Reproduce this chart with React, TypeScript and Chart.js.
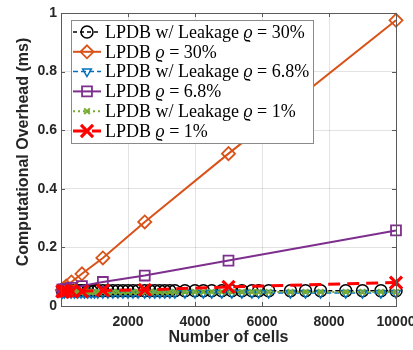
import React, { useEffect, useRef } from 'react';
import { Chart, registerables } from 'chart.js';

Chart.register(...registerables);

// ---- data ----
const sparseCells = [39, 78, 156, 312, 625, 1250, 2500, 5000, 10000];
const lpdb30 = [0.055, 0.06, 0.068, 0.082, 0.11, 0.164, 0.287, 0.52, 0.975];
const lpdb68 = [0.056, 0.057, 0.058, 0.062, 0.068, 0.082, 0.104, 0.155, 0.258];
const lpdb1 = [0.05, 0.05, 0.05, 0.05, 0.05, 0.053, 0.055, 0.065, 0.08];

const leakCells = [39, 100, 200, 300, 400, 500, 600, 700, 800, 900, 1000, 1100, 1250, 1400, 1550, 1700, 1850, 2000, 2150, 2300, 2500, 2650, 2800, 2950, 3100, 3250, 3400, 3700, 4000, 4250, 4500, 4800, 5100, 5400, 5700, 5900, 6200, 6850, 7300, 7750, 8500, 9000, 9550, 10000];
const leak30 = [0.052, 0.052, 0.052, 0.052, 0.052, 0.052, 0.052, 0.052, 0.052, 0.052, 0.052, 0.052, 0.052, 0.052, 0.052, 0.052, 0.052, 0.052, 0.052, 0.052, 0.052, 0.052, 0.052, 0.052, 0.052, 0.052, 0.052, 0.052, 0.052, 0.052, 0.052, 0.052, 0.052, 0.052, 0.052, 0.052, 0.052, 0.052, 0.052, 0.052, 0.052, 0.052, 0.052, 0.052];
const leak68 = [0.044, 0.044, 0.044, 0.044, 0.044, 0.044, 0.044, 0.044, 0.044, 0.044, 0.044, 0.044, 0.044, 0.044, 0.044, 0.044, 0.044, 0.044, 0.044, 0.044, 0.044, 0.044, 0.044, 0.044, 0.044, 0.044, 0.044, 0.044, 0.044, 0.044, 0.044, 0.044, 0.044, 0.044, 0.044, 0.044, 0.044, 0.044, 0.044, 0.044, 0.044, 0.044, 0.044, 0.044];
const leak1 = [0.048, 0.048, 0.048, 0.048, 0.048, 0.048, 0.048, 0.048, 0.048, 0.048, 0.048, 0.048, 0.048, 0.048, 0.048, 0.048, 0.048, 0.048, 0.048, 0.048, 0.048, 0.048, 0.048, 0.048, 0.048, 0.048, 0.048, 0.048, 0.048, 0.048, 0.048, 0.048, 0.048, 0.048, 0.048, 0.048, 0.048, 0.048, 0.048, 0.048, 0.048, 0.048, 0.048, 0.048];

const xTickValues = [2000, 4000, 6000, 8000, 10000];
const yTickValues = [0, 0.2, 0.4, 0.6, 0.8, 1];
const xTitle = 'Number of cells';
const yTitle = 'Computational Overhead (ms)';

const legendRows = [
  { prefix: 'LPDB w/ Leakage ', suffix: ' = 30%' },
  { prefix: 'LPDB ', suffix: ' = 30%' },
  { prefix: 'LPDB w/ Leakage ', suffix: ' = 6.8%' },
  { prefix: 'LPDB ', suffix: ' = 6.8%' },
  { prefix: 'LPDB w/ Leakage ', suffix: ' = 1%' },
  { prefix: 'LPDB ', suffix: ' = 1%' },
];

const BLACK = '#000000';
const ORANGE = '#D95319';
const BLUE = '#0072BD';
const PURPLE = '#7E2F8E';
const GREEN = '#77AC30';
const RED = '#FF0000';

type Sty = { color: string; dash: number[]; lw: number; marker: string; r: number; mlw: number; rot?: number };
const styles: Sty[] = [
  { color: BLACK, dash: [4, 3], lw: 1.5, marker: 'circle', r: 6, mlw: 1.5 },
  { color: ORANGE, dash: [], lw: 2, marker: 'rectRot', r: 6.5, mlw: 1.8 },
  { color: BLUE, dash: [5, 3], lw: 1.5, marker: 'triangle', r: 5, mlw: 1.5, rot: 180 },
  { color: PURPLE, dash: [], lw: 2, marker: 'rect', r: 7, mlw: 1.8 },
  { color: GREEN, dash: [2, 3], lw: 2, marker: 'crossRot', r: 4, mlw: 2 },
  { color: RED, dash: [12, 7], lw: 3, marker: 'crossRot', r: 8.5, mlw: 3.2 },
];

function drawMarker(ctx: CanvasRenderingContext2D, s: Sty, x: number, y: number) {
  ctx.save();
  ctx.setLineDash([]);
  ctx.strokeStyle = s.color;
  ctx.lineWidth = s.mlw;
  ctx.beginPath();
  const r = s.r;
  if (s.marker === 'circle') {
    ctx.arc(x, y, r, 0, Math.PI * 2);
  } else if (s.marker === 'rectRot') {
    ctx.moveTo(x, y - r); ctx.lineTo(x + r, y); ctx.lineTo(x, y + r); ctx.lineTo(x - r, y); ctx.closePath();
  } else if (s.marker === 'triangle') {
    const a = (s.rot || 0) * Math.PI / 180;
    for (let k = 0; k < 3; k++) {
      const ang = a + k * 2 * Math.PI / 3;
      const px = x + Math.sin(ang) * r, py = y - Math.cos(ang) * r;
      if (k === 0) ctx.moveTo(px, py); else ctx.lineTo(px, py);
    }
    ctx.closePath();
  } else if (s.marker === 'rect') {
    const h = r * Math.SQRT1_2;
    ctx.rect(x - h, y - h, 2 * h, 2 * h);
  } else if (s.marker === 'crossRot') {
    const h = r * Math.SQRT1_2;
    ctx.moveTo(x - h, y - h); ctx.lineTo(x + h, y + h);
    ctx.moveTo(x + h, y - h); ctx.lineTo(x - h, y + h);
  }
  ctx.stroke();
  ctx.restore();
}

const framePlugin = {
  id: 'frameAndLegend',
  afterDraw(chart: any) {
    const ctx: CanvasRenderingContext2D = chart.ctx;
    const a = chart.chartArea;
    const xs = chart.scales.x, ys = chart.scales.y;
    ctx.save();
    // box
    ctx.strokeStyle = '#5a5a5a';
    ctx.lineWidth = 1;
    ctx.setLineDash([]);
    ctx.strokeRect(Math.round(a.left) + 0.5, Math.round(a.top) + 0.5, Math.round(a.right - a.left), Math.round(a.bottom - a.top));
    // inward ticks
    ctx.beginPath();
    xTickValues.forEach(v => {
      const px = Math.round(xs.getPixelForValue(v)) + 0.5;
      ctx.moveTo(px, a.bottom); ctx.lineTo(px, a.bottom - 4);
      ctx.moveTo(px, a.top); ctx.lineTo(px, a.top + 4);
    });
    yTickValues.forEach(v => {
      const py = Math.round(ys.getPixelForValue(v)) + 0.5;
      ctx.moveTo(a.left, py); ctx.lineTo(a.left + 4, py);
      ctx.moveTo(a.right, py); ctx.lineTo(a.right - 4, py);
    });
    ctx.stroke();

    // axis titles
    ctx.fillStyle = '#262626';
    ctx.font = 'bold 16px "Liberation Sans", Arial, sans-serif';
    ctx.textAlign = 'center';
    ctx.textBaseline = 'middle';
    ctx.fillText(xTitle, (a.left + a.right) / 2, 338);
    ctx.save();
    ctx.translate(24, 152);
    ctx.rotate(-Math.PI / 2);
    ctx.fillText(yTitle, 0, 0);
    ctx.restore();

    // legend
    const bx = 71, by = 20, bw = 242, bh = 123;
    ctx.fillStyle = '#ffffff';
    ctx.fillRect(bx, by, bw, bh);
    ctx.strokeStyle = '#8a8a8a';
    ctx.strokeRect(bx + 0.5, by + 0.5, bw, bh);
    legendRows.forEach((row, i) => {
      const s = styles[i];
      const cy = 32 + i * 19.8;
      ctx.save();
      ctx.strokeStyle = s.color;
      ctx.lineWidth = s.lw;
      ctx.setLineDash(s.dash);
      ctx.beginPath();
      ctx.moveTo(73, cy); ctx.lineTo(101, cy);
      ctx.stroke();
      ctx.restore();
      drawMarker(ctx, s, 87, cy);
      ctx.fillStyle = '#000';
      ctx.textAlign = 'left';
      ctx.textBaseline = 'middle';
      let tx = 105;
      ctx.font = '18px "Liberation Serif", "Times New Roman", serif';
      ctx.fillText(row.prefix, tx, cy + 1);
      tx += ctx.measureText(row.prefix).width;
      ctx.font = 'italic 18px "Liberation Serif", "Times New Roman", serif';
      ctx.fillText('\u03F1', tx, cy + 1);
      tx += ctx.measureText('\u03F1').width;
      ctx.font = '18px "Liberation Serif", "Times New Roman", serif';
      ctx.fillText(row.suffix, tx, cy + 1);
    });
    ctx.restore();
  },
};

function makeDataset(label: string, xsArr: number[], ysArr: number[], s: Sty, order: number) {
  return {
    label,
    data: xsArr.map((x, i) => ({ x, y: ysArr[i] })),
    showLine: true,
    borderColor: s.color,
    backgroundColor: 'rgba(0,0,0,0)',
    borderWidth: s.lw,
    borderDash: s.dash,
    pointStyle: s.marker,
    pointRotation: s.rot || 0,
    pointRadius: s.r,
    pointBorderWidth: s.mlw,
    pointBorderColor: s.color,
    pointBackgroundColor: 'rgba(0,0,0,0)',
    clip: false as any,
    order,
  };
}

export default function App() {
  const ref = useRef<HTMLCanvasElement>(null);
  useEffect(() => {
    document.body.style.margin = '0';
    const tickFont = { family: '"Liberation Sans", Arial, sans-serif', weight: 'bold' as const, size: 14 };
    const chart = new Chart(ref.current!, {
      type: 'scatter',
      data: {
        datasets: [
          makeDataset('LPDB w/ Leakage 30%', leakCells, leak30, styles[0], 6),
          makeDataset('LPDB 30%', sparseCells, lpdb30, styles[1], 5),
          makeDataset('LPDB w/ Leakage 6.8%', leakCells, leak68, styles[2], 4),
          makeDataset('LPDB 6.8%', sparseCells, lpdb68, styles[3], 3),
          makeDataset('LPDB w/ Leakage 1%', leakCells, leak1, styles[4], 2),
          makeDataset('LPDB 1%', sparseCells, lpdb1, styles[5], 1),
        ] as any,
      },
      options: {
        responsive: false,
        animation: false,
        devicePixelRatio: 1,
        layout: { padding: { left: 0, right: 17, top: 13, bottom: 0 } },
        plugins: { legend: { display: false }, tooltip: { enabled: false } },
        scales: {
          x: {
            type: 'linear',
            min: 0,
            max: 10000,
            afterBuildTicks: (s: any) => { s.ticks = xTickValues.map(v => ({ value: v })); },
            afterFit: (s: any) => { s.height = 44; s.paddingLeft = 0; s.paddingRight = 0; },
            grid: { color: 'rgba(38,38,38,0.13)', drawTicks: false },
            border: { display: false },
            ticks: { font: tickFont, color: '#262626', padding: 8, maxRotation: 0, autoSkip: false, callback: (v: any) => String(v) },
          },
          y: {
            type: 'linear',
            min: 0,
            max: 1,
            afterBuildTicks: (s: any) => { s.ticks = yTickValues.map(v => ({ value: v })); },
            afterFit: (s: any) => { s.width = 61; s.paddingTop = 0; s.paddingBottom = 0; },
            grid: { color: 'rgba(38,38,38,0.13)', drawTicks: false },
            border: { display: false },
            ticks: { font: tickFont, color: '#262626', padding: 4, autoSkip: false, callback: (v: any) => String(v) },
          },
        },
      },
      plugins: [framePlugin],
    });
    return () => chart.destroy();
  }, []);
  return (
    <div style={{ width: 413, height: 350 }}>
      <canvas ref={ref} width={413} height={350} style={{ display: 'block', width: 413, height: 350 }} />
    </div>
  );
}
